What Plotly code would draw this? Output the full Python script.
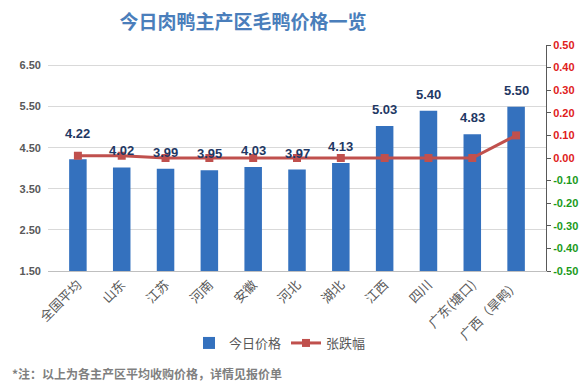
import plotly.graph_objects as go

categories = ["全国平均", "山东", "江苏", "河南", "安徽", "河北", "湖北", "江西", "四川", "广东(塘口)", "广西（旱鸭）"]
prices = [4.22, 4.02, 3.99, 3.95, 4.03, 3.97, 4.13, 5.03, 5.40, 4.83, 5.50]
changes = [0.01, 0.01, 0.00, 0.00, 0.00, 0.00, 0.00, 0.00, 0.00, 0.00, 0.10]
left_ticks = [1.5, 2.5, 3.5, 4.5, 5.5, 6.5]
right_ticks = [-0.5, -0.4, -0.3, -0.2, -0.1, 0.0, 0.1, 0.2, 0.3, 0.4, 0.5]

W, H = 584, 391
L, R, T, B = 48, 38, 45, 120

num_font = "Liberation Sans, Noto Sans CJK SC, sans-serif"
cjk_font = "Noto Sans CJK SC, sans-serif"

fig = go.Figure()
fig.add_trace(go.Bar(
    x=categories, y=prices, name="今日价格",
    marker=dict(color="#3471be", line=dict(width=0)),
    yaxis="y",
))
fig.add_trace(go.Scatter(
    x=categories, y=changes, name="张跌幅", mode="lines+markers",
    line=dict(color="#c0504d", width=3),
    marker=dict(symbol="square", size=8, color="#c0504d"),
    yaxis="y2",
))

annotations = []
for i, (c, v) in enumerate(zip(categories, prices)):
    annotations.append(dict(
        x=c, y=v, xref="x", yref="y", text=f"<b>{v:.2f}</b>", showarrow=False,
        yanchor="bottom", yshift=16 if i == 0 else 7,
        font=dict(family=num_font, size=13, color="#1f3864"),
    ))
annotations.append(dict(
    text="<b>*注：以上为各主产区平均收购价格，详情见报价单</b>",
    showarrow=False, xanchor="left", yanchor="middle",
    xref="paper", yref="paper",
    x=(10 - L) / (W - L - R), y=(H - B - 373) / (H - T - B),
    font=dict(family=cjk_font, size=12, color="#7f7f7f"),
))

neg_ticks = [v for v in right_ticks if v < 0]

fig.update_layout(
    width=W, height=H,
    margin=dict(l=L, r=R, t=T, b=B, autoexpand=False),
    paper_bgcolor="white", plot_bgcolor="white",
    title=dict(text="<b>今日肉鸭主产区毛鸭价格一览</b>", x=243 / W, xanchor="center",
               xref="container", y=1 - 22 / H, yanchor="middle", yref="container",
               font=dict(family=cjk_font, size=19, color="#4a7ebb")),
    bargap=0.6,
    showlegend=True,
    legend=dict(orientation="h", x=(280 - L) / (W - L - R), xanchor="center",
                y=(H - B - 343) / (H - T - B), yanchor="middle",
                font=dict(family=cjk_font, size=13, color="#595959"),
                tracegroupgap=0),
    xaxis=dict(type="category", tickangle=-45, showgrid=False, automargin=False,
               showline=True, linecolor="#bfbfbf", linewidth=1, ticks="",
               tickfont=dict(family=cjk_font, size=13, color="#595959")),
    yaxis=dict(range=[1.5, 7.0], tickvals=left_ticks, ticktext=[f"<b>{v:.2f}</b>" for v in left_ticks],
               showgrid=True, gridcolor="#d9d9d9", gridwidth=1, zeroline=False,
               showline=False, ticks="", ticklabelstandoff=6, automargin=False,
               tickfont=dict(family=num_font, size=11, color="#595959")),
    yaxis2=dict(range=[-0.5, 0.5], overlaying="y", side="right", automargin=False,
                tickvals=right_ticks,
                ticktext=[f"<b>{v:.2f}</b>" if v >= 0 else "" for v in right_ticks],
                showgrid=False, zeroline=False, showline=True, linecolor="#595959",
                linewidth=1, ticks="outside", ticklen=4, tickcolor="#595959",
                tickfont=dict(family=num_font, size=11, color="#e02020")),
    yaxis3=dict(range=[-0.5, 0.5], overlaying="y", side="right", automargin=False,
                tickvals=neg_ticks, ticktext=[f"<b>{v:.2f}</b>" for v in neg_ticks],
                showgrid=False, zeroline=False, showline=False,
                ticks="outside", ticklen=4, tickcolor="#595959",
                tickfont=dict(family=num_font, size=11, color="#1a9a1a")),
    annotations=annotations,
)
# invisible trace to activate yaxis3
fig.add_trace(go.Scatter(x=[categories[0]], y=[0], yaxis="y3", mode="markers",
                         marker=dict(opacity=0), showlegend=False, hoverinfo="skip"))

fig.write_html("out.html", config={"displayModeBar": False},
               post_script="document.body.style.margin='0';document.body.style.overflow='hidden';")
